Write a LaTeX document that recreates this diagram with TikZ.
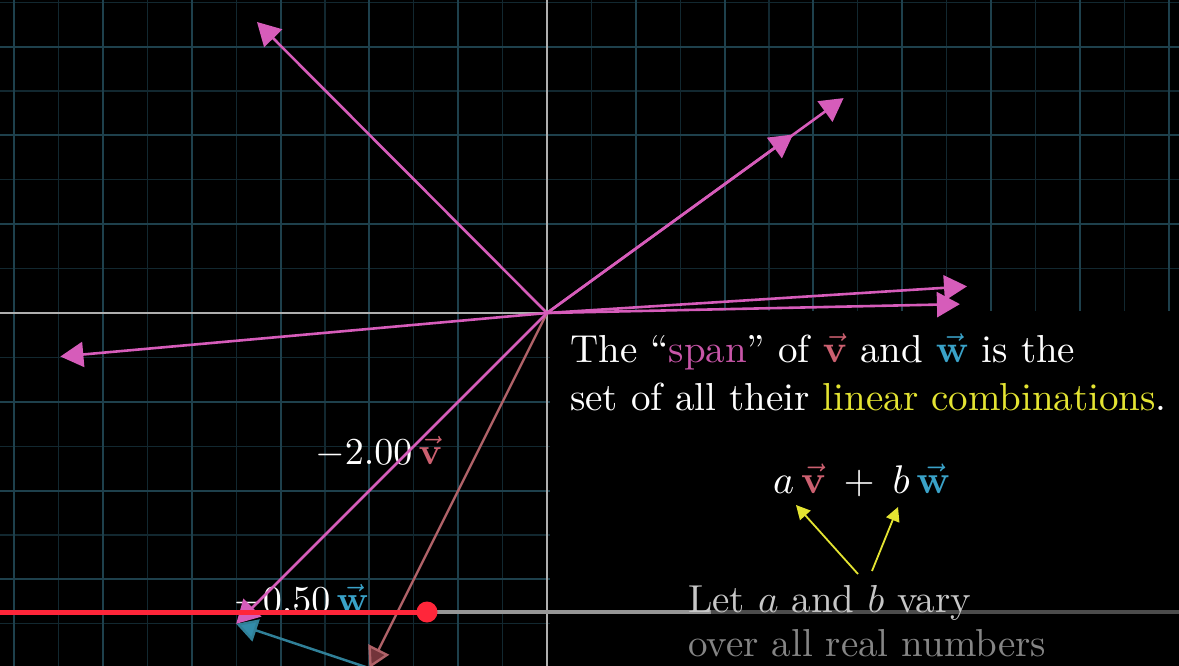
\documentclass[tikz,border=0pt]{standalone}
\usepackage{graphicx}
\usetikzlibrary{arrows.meta}
\definecolor{gridmajor}{RGB}{30,64,76}
\definecolor{gridminor}{RGB}{18,40,48}
\definecolor{axiscol}{RGB}{175,175,175}
\definecolor{vecpink}{RGB}{214,92,186}
\definecolor{spanc}{RGB}{200,86,168}
\definecolor{vcol}{RGB}{204,96,112}
\definecolor{wcol}{RGB}{58,162,200}
\definecolor{vline}{RGB}{176,98,104}
\definecolor{vhead}{RGB}{115,52,58}
\definecolor{wline}{RGB}{48,128,152}
\definecolor{whead}{RGB}{50,140,170}
\definecolor{ylw}{RGB}{228,228,50}
\definecolor{ytred}{RGB}{255,38,58}
\definecolor{barlight}{RGB}{150,150,150}
\definecolor{bardark}{RGB}{76,76,76}
\newcommand{\scaledtxt}[2]{\scalebox{#1}{\fontsize{10}{12}\selectfont #2}}
\tikzset{
  minorgrid/.style={draw=gridminor, line width=1.1pt},
  majorgrid/.style={draw=gridmajor, line width=2pt},
  axisline/.style={draw=axiscol, line width=2pt},
  pinkvec/.style={draw=vecpink, line width=2.6pt, -{Triangle[length=23pt,width=25pt,fill=vecpink]}},
  vvec/.style={draw=vline, line width=2.4pt, -{Triangle[length=21pt,width=23pt,fill=vhead]}},
  wvec/.style={draw=wline, line width=2.4pt, -{Triangle[length=21pt,width=23pt,fill=whead]}},
  ylwarrow/.style={draw=ylw, line width=1.8pt, -{Triangle[length=14pt,width=14pt,fill=ylw]}},
  txt/.style={anchor=base west, inner sep=0pt, text=white},
}
\begin{document}
\begin{tikzpicture}[x=1pt,y=-1pt]
\fill[black] (0,0) rectangle (1179,666);
\useasboundingbox (0,0) rectangle (1179,666);
\begin{scope}
\clip (0,0) rectangle (1179,666);
% grid in units
\begin{scope}[shift={(547,313)},x=88.8pt,y=88.8pt]
  \foreach \i in {-13,...,15} \draw[minorgrid] (\i/2,-4.5) -- (\i/2,4);
  \foreach \j in {-9,...,8} \draw[minorgrid] (-6.5,\j/2) -- (7.5,\j/2);
  \foreach \i in {-7,...,8} \draw[majorgrid] (\i,-4.5) -- (\i,4);
  \foreach \j in {-4,...,4} \draw[majorgrid] (-6.5,\j) -- (7.5,\j);
  \coordinate (O) at (0,0);
  \coordinate (xl) at (-6.5,0);
  \coordinate (yt) at (0,4);
  \coordinate (yb) at (0,-4.5);
  \draw[axisline] (xl) -- (O);
  \draw[axisline] (yb) -- (yt);
\end{scope}
% black panel behind the text
\fill[black] (549.5,311) rectangle (1179,666);
% labels of the vectors
\node[txt] (lab2v) at (315,464) {\scaledtxt{3.8}{$-2.00\,\textcolor{vcol}{\vec{\mathbf{v}}}$}};
\node[txt] (lab05w) at (233,612) {\scaledtxt{3.8}{$-0.50\,\textcolor{wcol}{\vec{\mathbf{w}}}$}};
% vectors
\begin{scope}[shift={(547,313)},x=88.8pt,y=88.8pt]
  \coordinate (p1) at (-3.266,3.277);
  \coordinate (p2) at (3.34,2.42);
  \coordinate (p3) at (2.77,2.01);
  \coordinate (p4) at (4.73,0.30);
  \coordinate (p5) at (4.65,0.10);
  \coordinate (p6) at (-5.48,-0.49);
  \coordinate (mv) at (-2,-4);
  \coordinate (sum) at (-3.5,-3.5);
  \draw[vvec] (O) -- (mv);
  \draw[wvec] (mv) -- (sum);
  \draw[pinkvec] (O) -- (p1);
  \draw[pinkvec] (O) -- (p2);
  \draw[pinkvec] (O) -- (p3);
  \draw[pinkvec] (O) -- (p4);
  \draw[pinkvec] (O) -- (p5);
  \draw[pinkvec] (O) -- (p6);
  \draw[pinkvec] (O) -- (sum);
\end{scope}
% text block
\node[txt] (line1) at (570,362) {\scaledtxt{3.9}{The ``\textcolor{spanc}{span}'' of \textcolor{vcol}{$\vec{\mathbf{v}}$} and \textcolor{wcol}{$\vec{\mathbf{w}}$} is the}};
\node[txt] (line2) at (570,410) {\scaledtxt{3.9}{set of all their \textcolor{ylw}{linear combinations}.}};
\node[txt] (formula) at (773,493)
  {\scaledtxt{4.0}{$a\,\textcolor{vcol}{\vec{\mathbf{v}}}\:+\:b\,\textcolor{wcol}{\vec{\mathbf{w}}}$}};
% progress bar
\coordinate (barL) at (0,612);
\coordinate (barK) at (427,612);
\coordinate (barB) at (711,612);
\coordinate (barR) at (1179,612);
\draw[bardark, line width=4.5pt] (barB) -- (barR);
\draw[barlight, line width=4.5pt] (barK) -- (barB);
\draw[ytred, line width=5pt] (barL) -- (barK);
\fill[ytred] (barK) circle (10.5);
% bottom note
\node[txt, text=black!22] (let1) at (688,612) {\scaledtxt{3.9}{Let $a$ and $b$ vary}};
\node[txt, text=black!48] (let2) at (688,656) {\scaledtxt{3.9}{over all real numbers}};
% yellow pointers
\coordinate (ya) at (858,574);
\coordinate (yb2) at (872,571);
\coordinate (yah) at (796,505);
\coordinate (ybh) at (898,507);
\draw[ylwarrow] (ya) -- (yah);
\draw[ylwarrow] (yb2) -- (ybh);
\end{scope}
\end{tikzpicture}
\end{document}
